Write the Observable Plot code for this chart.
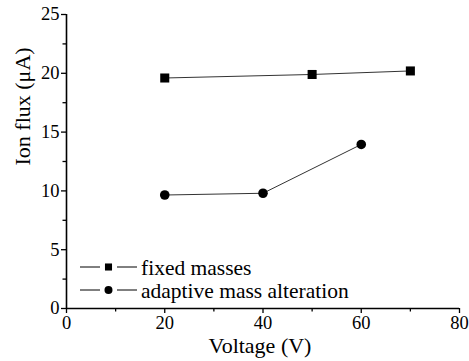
<!DOCTYPE html>
<html>
<head>
<meta charset="utf-8">
<script src="https://cdn.jsdelivr.net/npm/d3@7"></script>
<script src="https://cdn.jsdelivr.net/npm/@observablehq/plot@0.6"></script>
<style>
  html, body { margin: 0; padding: 0; background: #fff; }
  #chart { position: relative; width: 469px; height: 361px; }
  #chart svg { display: block; }
  #chart svg text { font-family: 'Liberation Serif', 'Times New Roman', serif !important; font-variant-numeric: normal !important; }
  #legend { position: absolute; left: 0; top: 0; pointer-events: none; }
</style>
</head>
<body>
<div id="chart"></div>
<script>
// Ion flux measured against extraction voltage
const fixedVoltage = [20, 50, 70];
const fixedFlux = [19.6, 19.9, 20.2];
const adaptiveVoltage = [20, 40, 60];
const adaptiveFlux = [9.65, 9.8, 13.95];

const seriesNames = ["fixed masses", "adaptive mass alteration"];
const seriesSymbols = ["square", "circle"];

const xMajor = [0, 20, 40, 60, 80];
const xMinor = [10, 30, 50, 70];
const yMajor = [0, 5, 10, 15, 20, 25];
const yMinor = [2.5, 7.5, 12.5, 17.5, 22.5];

const xLabel = "Voltage (V)";
const yLabel = "Ion flux (μA)";

const fixedRows = fixedVoltage.map((v, i) => ({v, f: fixedFlux[i]}));
const adaptiveRows = adaptiveVoltage.map((v, i) => ({v, f: adaptiveFlux[i]}));

const font = "'Liberation Serif', 'Times New Roman', serif";

const chart = Plot.plot({
  width: 469,
  height: 361,
  marginLeft: 66,
  marginRight: 10,
  marginTop: 14,
  marginBottom: 53,
  style: {fontFamily: font, fontSize: "18.5px", color: "#000", background: "#fff"},
  x: {domain: [0, 80]},
  y: {domain: [0, 25]},
  marks: [
    Plot.axisX({ticks: xMajor, tickSize: 5, tickPadding: 2, label: null, fontSize: 18.5, fontFamily: font, fontVariant: "normal", strokeWidth: 1.3}),
    Plot.axisX({ticks: xMinor, tickSize: 3.5, text: null, label: null, strokeWidth: 1.3}),
    Plot.axisY({ticks: yMajor, tickSize: 5, tickPadding: 2, label: null, fontSize: 18.5, fontFamily: font, fontVariant: "normal", strokeWidth: 1.3}),
    Plot.axisY({ticks: yMinor, tickSize: 3.5, text: null, label: null, strokeWidth: 1.3}),
    Plot.ruleY([0], {stroke: "#000", strokeWidth: 1.6}),
    Plot.ruleX([0], {stroke: "#000", strokeWidth: 1.6}),
    Plot.line(fixedRows, {x: "v", y: "f", stroke: "#333", strokeWidth: 1}),
    Plot.line(adaptiveRows, {x: "v", y: "f", stroke: "#333", strokeWidth: 1}),
    Plot.dot(fixedRows, {x: "v", y: "f", symbol: "square", r: 5.1, fill: "#000", stroke: "none"}),
    Plot.dot(adaptiveRows, {x: "v", y: "f", symbol: "circle", r: 4.8, fill: "#000", stroke: "none"}),
    Plot.text([xLabel], {frameAnchor: "bottom", dy: 37, text: d => d, fontSize: 22, fontFamily: font, fill: "#000", lineAnchor: "middle", dx: -3}),
    Plot.text([yLabel], {frameAnchor: "left", dx: -44, dy: 4, rotate: -90, text: d => d, fontSize: 22, fontFamily: font, fill: "#000", lineAnchor: "middle"})
  ]
});

const root = document.getElementById("chart");
root.appendChild(chart);

// Legend: line–marker–line sample followed by the series name
const legend = d3.select(root).append("svg")
  .attr("id", "legend")
  .attr("width", 469)
  .attr("height", 361);

const rowY = [267, 290];
seriesNames.forEach((name, i) => {
  const g = legend.append("g").attr("transform", `translate(0,${rowY[i]})`);
  g.append("line").attr("x1", 80).attr("x2", 100).attr("y1", 0).attr("y2", 0).attr("stroke", "#000").attr("stroke-width", 1);
  g.append("line").attr("x1", 117).attr("x2", 137).attr("y1", 0).attr("y2", 0).attr("stroke", "#000").attr("stroke-width", 1);
  const sym = seriesSymbols[i] === "square" ? d3.symbolSquare : d3.symbolCircle;
  g.append("path").attr("d", d3.symbol(sym, 50)()).attr("transform", "translate(108.5,0)").attr("fill", "#000");
  g.append("text").attr("x", 141).attr("y", 0).attr("dy", "0.35em")
    .attr("font-family", font).attr("font-size", 21.5).attr("fill", "#000")
    .text(name);
});
</script>
</body>
</html>
